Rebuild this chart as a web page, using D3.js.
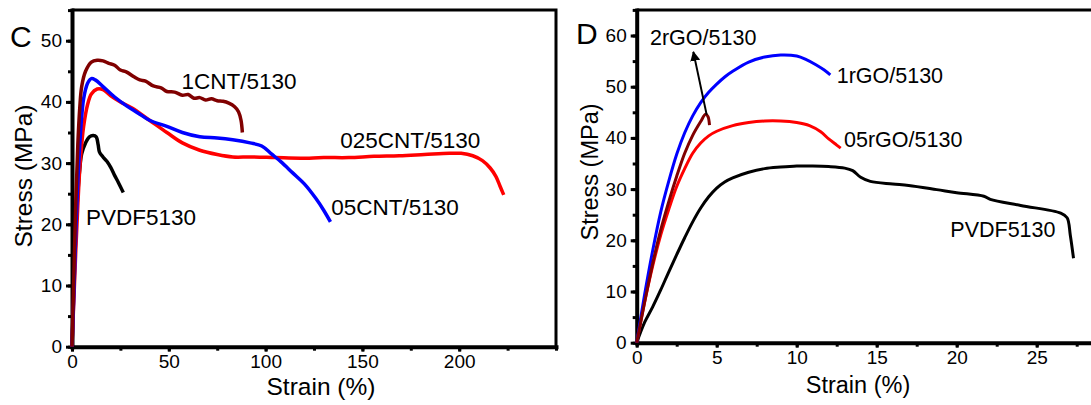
<!DOCTYPE html>
<html>
<head>
<meta charset="utf-8">
<script src="https://cdn.jsdelivr.net/npm/d3@7"></script>
<style>
  body { margin: 0; background: #fff; }
  svg { display: block; font-family: "Liberation Sans", Arial, sans-serif; }
</style>
</head>
<body>
<svg id="stage" width="1091" height="405"></svg>
<script>
// ---- panel C: CNT composites (strain %, stress MPa)
const cntPVDF = [[0,0],[1,10],[2,19],[3,25],[4,29],[5,31.5],[7,33.3],[9,34.3],[11,34.5],[12.5,34.3],[13.5,33],[14.2,31.8],[16,31],[18,30.3],[20,29.3],[22,28],[24,26.8],[26.5,25.2]];
const cnt025 = [[0,0],[1,8],[2,16],[3,23],[4,29],[5,33],[6,36],[8,39.5],[10,41.3],[13,42.1],[16,42],[20,41],[25,40],[31,39],[40,37],[49,35],[57,33.3],[66,32.1],[75,31.4],[83,31],[92,31],[105,30.9],[118,30.8],[130,30.9],[143,30.9],[156,31.1],[169,31.2],[182,31.4],[195,31.6],[201,31.6],[207,31.2],[212,30.4],[216,29.2],[219,27.8],[221,26.3],[223,24.8]];
const cnt05 = [[0,0],[1,9],[2,19],[3,27],[4,33],[5,37.5],[6,40.5],[8,43],[10,43.8],[12,43.6],[16,42.5],[22,40.8],[28,39.4],[34,38.2],[40,37],[49,36],[57,35],[66,34.3],[75,34.1],[83,33.8],[92,33.3],[98,32.8],[103,31.5],[108,30.2],[114,28.4],[120,26.6],[126,24.2],[130,22.3],[133.5,20.4]];
const cnt1 = [[0,0],[1,12],[2,24],[3,33],[4,39],[5,42.5],[7,45],[10,46.5],[13,46.8],[16,46.7],[19,46.3],[22,46],[25,45.2],[28,44.9],[32,44.1],[35,43.6],[38,43.4],[42,42.6],[46,42.3],[49,41.7],[53,41.6],[57,41.1],[60,41.2],[63,40.6],[66,40.7],[69,40.3],[72,40.5],[75,40.2],[78,40.1],[81,39.8],[84,39.2],[86,38.4],[87.3,37],[88,35]];

// ---- panel D: rGO composites
const gPVDF = [[0,0],[0.5,4],[1,7],[1.5,10.3],[2,13.8],[2.5,17.2],[3,20.5],[3.5,23.6],[4,26.3],[4.5,28.5],[5,30.2],[5.5,31.4],[6,32.2],[7,33.3],[8,34],[9,34.3],[10,34.5],[11,34.5],[12,34.4],[13,34.1],[13.5,33.6],[14,32.3],[14.6,31.5],[16,31],[17,30.7],[18.75,29.9],[20,29.3],[21.7,28.6],[22.1,28],[24,26.8],[26.5,25.3],[26.9,24.4],[27.1,21],[27.3,16.5]];
const g05 = [[0,0],[0.5,8],[1,15],[1.5,21],[2,26],[2.5,30.5],[3,34],[3.5,37],[4,39],[4.5,40.4],[5,41.3],[6,42.4],[7,43],[8,43.3],[9,43.3],[10,43],[10.8,42.4],[11.5,41.2],[12,39.8],[12.5,38.6],[12.75,38]];
const g1 = [[0,0],[0.5,9.5],[1,18],[1.5,25.5],[2,31.5],[2.5,36.8],[3,41],[3.5,44.3],[4,46.9],[4.5,48.9],[5,50.5],[5.5,51.9],[6,53],[7,54.8],[8,55.8],[9,56.2],[10,56],[10.6,55.3],[11.2,54.3],[11.7,53.3],[12.1,52.3]];
const g2 = [[0,0],[0.5,8],[1,15.5],[1.5,22],[2,27.5],[2.5,32.5],[3,37],[3.5,40.5],[4,43.2],[4.3,44.6],[4.45,44.2],[4.55,42.5]];

const cntSeries = [
  {name: "PVDF5130", data: cntPVDF, color: "#000000", label: [7.2, 19.9]},
  {name: "025CNT/5130", data: cnt025, color: "#ff0000", label: [138.5, 32.4]},
  {name: "05CNT/5130", data: cnt05, color: "#0000ff", label: [133.9, 21.5]},
  {name: "1CNT/5130", data: cnt1, color: "#800000", label: [56.5, 42.1]}
];
const rgoSeries = [
  {name: "PVDF5130", data: gPVDF, color: "#000000", label: [19.6, 20.6]},
  {name: "05rGO/5130", data: g05, color: "#ff0000", label: [12.96, 38.3]},
  {name: "1rGO/5130", data: g1, color: "#0000ff", label: [12.5, 50.7]},
  {name: "2rGO/5130", data: g2, color: "#800000", label: [0.83, 58.1]}
];

const cntXTicks = [0, 50, 100, 150, 200];
const cntYTicks = [0, 10, 20, 30, 40, 50];
const rgoXTicks = [0, 5, 10, 15, 20, 25];
const rgoYTicks = [0, 10, 20, 30, 40, 50, 60];

// arrow on panel D, from tail to head (data units)
const rgoArrow = [[4.375, 44.5], [3.54, 56.8]];

const svg = d3.select("#stage");

svg.append("defs").append("marker")
  .attr("id", "head")
  .attr("viewBox", "0 0 10 10")
  .attr("refX", 9).attr("refY", 5)
  .attr("markerWidth", 5).attr("markerHeight", 5)
  .attr("markerUnits", "strokeWidth")
  .attr("orient", "auto")
  .append("path").attr("d", "M0,0L10,5L0,10z").attr("fill", "#000");

function drawPanel(cfg){

  const x = d3.scaleLinear().domain(cfg.xDomain).range(cfg.xRange);
  const y = d3.scaleLinear().domain(cfg.yDomain).range(cfg.yRange);
  const g = svg.append("g");

  const [x0, x1] = cfg.xRange;
  const [yb, yt] = cfg.yRange;

  // top and right frame
  g.append("path")
    .attr("d", `M${x0},${yt}H${x1}V${yb}`)
    .attr("fill", "none").attr("stroke", "#000").attr("stroke-width", 3);

  const minorX = d3.range(cfg.xDomain[0], cfg.xDomain[1] + 1e-9, cfg.xMinor);
  const minorY = d3.range(cfg.yDomain[0], cfg.yDomain[1] + 1e-9, cfg.yMinor);

  const xMin = g.append("g").attr("transform", `translate(0,${yb})`)
    .call(d3.axisBottom(x).tickValues(minorX).tickSize(4).tickSizeOuter(0).tickFormat(""));
  const yMin = g.append("g").attr("transform", `translate(${x0},0)`)
    .call(d3.axisLeft(y).tickValues(minorY).tickSize(4).tickSizeOuter(0).tickFormat(""));
  [xMin, yMin].forEach(a => {
    a.select(".domain").remove();
    a.selectAll(".tick line").attr("stroke-width", 3);
  });

  const xAx = g.append("g").attr("transform", `translate(0,${yb})`)
    .call(d3.axisBottom(x).tickValues(cfg.xTicks).tickSize(5).tickSizeOuter(0).tickPadding(3));
  const yAx = g.append("g").attr("transform", `translate(${x0},0)`)
    .call(d3.axisLeft(y).tickValues(cfg.yTicks).tickSize(6).tickSizeOuter(0).tickPadding(4));
  [xAx, yAx].forEach(a => {
    a.select(".domain").attr("stroke-width", 4).attr("stroke-linecap", "square");
    a.selectAll(".tick line").attr("stroke-width", 3);
    a.selectAll(".tick text").attr("font-size", 19).attr("font-family", "Liberation Sans, Arial, sans-serif").attr("fill", "#000");
  });

  const line = d3.line().x(d => x(d[0])).y(d => y(d[1])).curve(d3.curveCatmullRom.alpha(0.5));

  g.selectAll("path.curve")
    .data(cfg.series)
    .join("path")
    .attr("class", "curve")
    .attr("d", d => line(d.data))
    .attr("fill", "none")
    .attr("stroke", d => d.color)
    .attr("stroke-width", cfg.lineW)
    .attr("stroke-linejoin", "round");

  g.selectAll("text.lbl")
    .data(cfg.series)
    .join("text")
    .attr("class", "lbl")
    .attr("x", d => x(d.label[0]))
    .attr("y", d => y(d.label[1]))
    .attr("font-size", cfg.labelSize)
    .text(d => d.name);

  if(cfg.arrow){
    g.append("line")
      .attr("x1", x(cfg.arrow[0][0])).attr("y1", y(cfg.arrow[0][1]))
      .attr("x2", x(cfg.arrow[1][0])).attr("y2", y(cfg.arrow[1][1]))
      .attr("stroke", "#000").attr("stroke-width", 2)
      .attr("marker-end", "url(#head)");
  }

  g.append("text")
    .attr("x", cfg.xTitle[0]).attr("y", cfg.xTitle[1])
    .attr("text-anchor", "middle").attr("font-size", cfg.titleSize)
    .text("Strain (%)");

  g.append("text")
    .attr("transform", `translate(${cfg.yTitle[0]},${cfg.yTitle[1]}) rotate(-90)`)
    .attr("text-anchor", "middle").attr("font-size", cfg.titleSize)
    .text("Stress (MPa)");

  g.append("text")
    .attr("x", cfg.letter[1]).attr("y", cfg.letter[2])
    .attr("font-size", 30)
    .text(cfg.letter[0]);
}

drawPanel({
  series: cntSeries,
  xDomain: [0, 250], xRange: [72, 556],
  yDomain: [0, 55], yRange: [346.7, 10.1],
  xTicks: cntXTicks, yTicks: cntYTicks, xMinor: 25, yMinor: 5,
  lineW: 3.5, labelSize: 22.5, titleSize: 24.5,
  xTitle: [321, 395], yTitle: [32, 176],
  letter: ["C", 10, 47]
});

drawPanel({
  series: rgoSeries,
  xDomain: [0, 28.5], xRange: [636.7, 1092.7],
  yDomain: [0, 65], yRange: [342.7, 9.9],
  xTicks: rgoXTicks, yTicks: rgoYTicks, xMinor: 2.5, yMinor: 5,
  lineW: 3, labelSize: 21.5, titleSize: 23.5,
  arrow: rgoArrow,
  xTitle: [858, 393], yTitle: [598, 172],
  letter: ["D", 576, 43.5]
});
</script>
</body>
</html>
